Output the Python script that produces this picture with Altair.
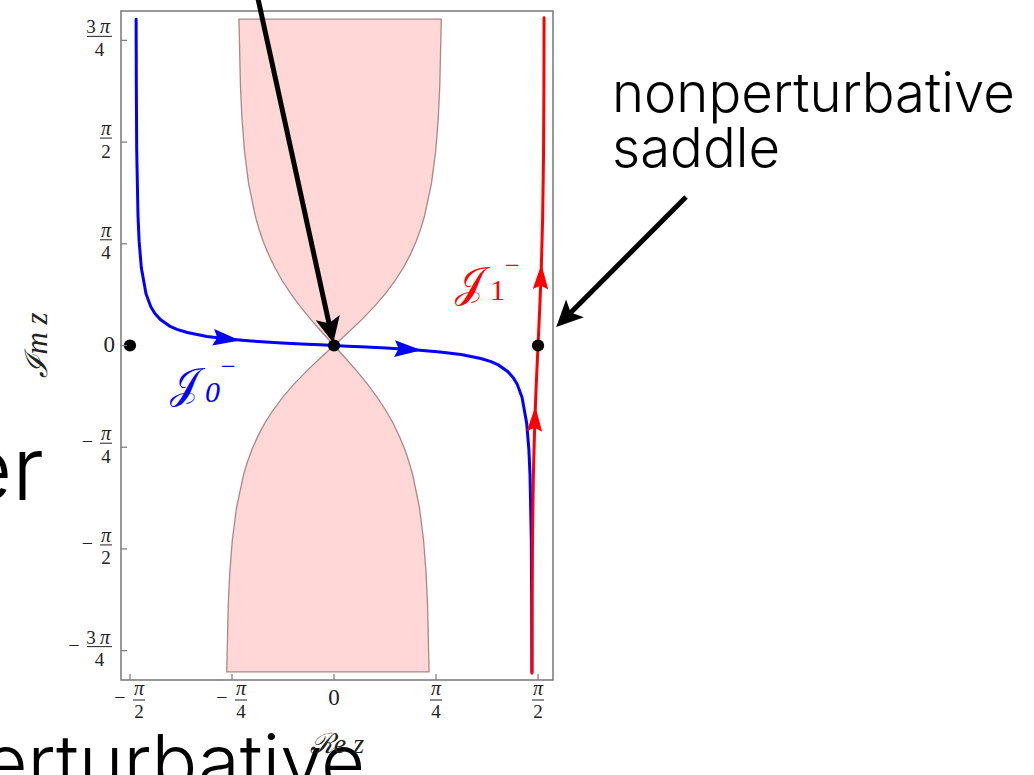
import math
import altair as alt
import pandas as pd

PI = math.pi

# ---------------- data (complex plane z = Re z + i Im z, radians) ----------------

# Thimble J0^- through the perturbative saddle z = 0 (blue)
j0_re = [-1.5236, -1.5220, -1.5189, -1.5091, -1.5001, -1.4834, -1.4476, -1.4107,
         -1.3810, -1.3368, -1.2648, -1.2092, -1.1297, -0.9784, -0.8150, -0.6394,
         -0.4020, -0.2094, -0.1058, 0.0,
         0.1058, 0.2094, 0.4020, 0.6394, 0.8150, 0.9784, 1.1297, 1.2092, 1.2648,
         1.3368, 1.3810, 1.4107, 1.4476, 1.4834, 1.5001, 1.5091, 1.5189, 1.5220, 1.5236]
j0_im = [2.52, 2.0, 1.5, 1.0, 0.8, 0.6, 0.4, 0.3,
         0.25, 0.2, 0.15, 0.125, 0.1, 0.07, 0.05, 0.035,
         0.02, 0.01, 0.005, 0.0,
         -0.005, -0.01, -0.02, -0.035, -0.05, -0.07, -0.1, -0.125, -0.15,
         -0.2, -0.25, -0.3, -0.4, -0.6, -0.8, -1.0, -1.5, -2.0, -2.52]

# Thimble J1^- through the nonperturbative saddle z = pi/2 (red)
j1_re = [1.5244, 1.5255, 1.5282, 1.5350, 1.5455, 1.5571, 1.5663, 1.5708,
         1.5753, 1.5845, 1.5961, 1.6066, 1.6134, 1.6161, 1.6172]
j1_im = [-2.53, -2.0, -1.5, -1.0, -0.6, -0.3, -0.1, 0.0,
         0.1, 0.3, 0.6, 1.0, 1.5, 2.0, 2.53]

# Shaded region: left / right boundary at each Im z
region_im = [-2.52, -2.0, -1.75, -1.5, -1.25, -1.0, -0.9, -0.8, -0.7, -0.6, -0.5,
             -0.4, -0.3, -0.2, -0.1, -0.05, 0.0, 0.05, 0.1, 0.2, 0.3, 0.4, 0.5,
             0.6, 0.7, 0.8, 0.9, 1.0, 1.25, 1.5, 1.75, 2.0, 2.52]
region_left = [-0.8260, -0.8141, -0.8023, -0.7827, -0.7502, -0.6968, -0.6668, -0.6304,
               -0.5862, -0.5331, -0.4698, -0.3955, -0.3098, -0.2135, -0.1091, -0.0549,
               0.0, -0.0455, -0.0905, -0.1777, -0.2592, -0.3329, -0.3981, -0.4546,
               -0.5029, -0.5437, -0.5777, -0.6061, -0.6575, -0.6891, -0.7084, -0.7202, -0.7319]
region_right = [0.7319, 0.7202, 0.7084, 0.6891, 0.6575, 0.6061, 0.5777, 0.5437,
                0.5029, 0.4546, 0.3981, 0.3329, 0.2592, 0.1777, 0.0905, 0.0455,
                0.0, 0.0549, 0.1091, 0.2135, 0.3098, 0.3955, 0.4698, 0.5331,
                0.5862, 0.6304, 0.6668, 0.6968, 0.7502, 0.7827, 0.8023, 0.8141, 0.8260]

# Saddle points
saddle_re = [-1.5708, 0.0, 1.5708]
saddle_im = [0.0, 0.0, 0.0]

# Flow-direction arrowheads sitting on the thimbles
j0_arrow_re = [-0.827, 0.570]
j0_arrow_im = [0.0515, -0.0306]
j1_arrow_re = [1.5934, 1.5467]
j1_arrow_im = [0.531, -0.568]

# Pointer arrows of the annotation (start, head)
ptr_re = [-0.600, 2.710]
ptr_im = [2.745, 1.1467]
ptr_head_re = [-0.0269, 1.783]
ptr_head_im = [0.1174, 0.2147]

# Tick values
re_ticks = [-PI / 2, -PI / 4, 0.0, PI / 4, PI / 2]
re_tick_den = ["2", "4", "", "4", "2"]
im_ticks = [-3 * PI / 4, -PI / 2, -PI / 4, 0.0, PI / 4, PI / 2, 3 * PI / 4]
im_tick_den = ["4", "2", "4", "", "4", "2", "4"]

# ---------------- layout ----------------
W, H = 432, 669
RE_DOMAIN = [-1.640, 1.686]
IM_DOMAIN = [-2.583, 2.583]
SERIF = "Liberation Serif"
SLIDE_FONT = "Inter"
FRAME = "#777777"

xs = alt.Scale(domain=RE_DOMAIN, nice=False, zero=False)
ys = alt.Scale(domain=IM_DOMAIN, nice=False, zero=False)


def X(f):
    return alt.X(f, type="quantitative", scale=xs, axis=None)


def Y(f):
    return alt.Y(f, type="quantitative", scale=ys, axis=None)


one = pd.DataFrame({"k": [0]})

j0_df = pd.DataFrame({"re": j0_re, "im": j0_im, "k": range(len(j0_re))})
j1_df = pd.DataFrame({"re": j1_re, "im": j1_im, "k": range(len(j1_re))})
reg_df = pd.DataFrame({"im": region_im, "l": region_left, "r": region_right})
sad_df = pd.DataFrame({"re": saddle_re, "im": saddle_im})

region = alt.Chart(reg_df).mark_area(
    orient="horizontal", fill="#ffd7d7", stroke="#a88888", strokeWidth=1.3
).encode(y=Y("im"), x=X("l"), x2=alt.X2("r"))

j0_line = alt.Chart(j0_df).mark_line(color="#0000ff", strokeWidth=3, strokeCap="round").encode(
    x=X("re"), y=Y("im"), order="k:Q")
j1_line = alt.Chart(j1_df).mark_line(color="#ff0000", strokeWidth=3, strokeCap="round").encode(
    x=X("re"), y=Y("im"), order="k:Q")

FLOW_HEAD = "M0,-1L0.62,1L0,0.7L-0.62,1Z"
PTR_HEAD = "M0,-1L0.95,1L0,0.55L-0.95,1Z"


def head(re, im, color, angle, size, shape):
    df = pd.DataFrame({"re": [re], "im": [im]})
    return alt.Chart(df).mark_point(
        shape=shape, filled=True, fill=color, strokeWidth=0, opacity=1,
        size=size, angle=angle
    ).encode(x=X("re"), y=Y("im"))


flow_heads = [
    head(j0_arrow_re[0], j0_arrow_im[0], "#0000ff", 97, 729, FLOW_HEAD),
    head(j0_arrow_re[1], j0_arrow_im[1], "#0000ff", 93.6, 729, FLOW_HEAD),
    head(j1_arrow_re[0], j1_arrow_im[0], "#ff0000", 2.2, 625, FLOW_HEAD),
    head(j1_arrow_re[1], j1_arrow_im[1], "#ff0000", 2.2, 625, FLOW_HEAD),
]

saddles = alt.Chart(sad_df).mark_circle(size=150, color="black", opacity=1).encode(
    x=X("re"), y=Y("im"))

ptr_df = pd.DataFrame({"re": ptr_re, "im": ptr_im, "re2": ptr_head_re, "im2": ptr_head_im})
ptr_shafts = alt.Chart(ptr_df).mark_rule(color="black", strokeWidth=5).encode(
    x=X("re"), y=Y("im"), x2=alt.X2("re2"), y2=alt.Y2("im2"))
ptr_heads = [
    head(ptr_head_re[0], ptr_head_im[0], "black", 167.6, 676, PTR_HEAD),
    head(ptr_head_re[1], ptr_head_im[1], "black", 225, 700, PTR_HEAD),
]

# ---------------- frame ticks and fraction labels ----------------
rt = pd.DataFrame({"v": re_ticks, "den": re_tick_den})
it = pd.DataFrame({"v": im_ticks, "den": im_tick_den})

re_tick_marks = alt.Chart(rt).mark_rule(color=FRAME, strokeWidth=1.2).encode(
    x=X("v"), x2=alt.X2("v"), y=alt.value(H), y2=alt.value(H - 6))
im_tick_marks = alt.Chart(it).mark_rule(color=FRAME, strokeWidth=1.2).encode(
    y=Y("v"), y2=alt.Y2("v"), x=alt.value(0), x2=alt.value(6))


def txt(chart, **kw):
    base = dict(font=SERIF, color="#222222")
    base.update(kw)
    return chart.mark_text(**base)


# x-axis labels
rneg = alt.Chart(rt).transform_filter("datum.v < 0")
rpos = alt.Chart(rt).transform_filter("datum.v > 0")
rzero = alt.Chart(rt).transform_filter("datum.v == 0")
x_labels = [
    txt(rneg, text="\u2212", fontSize=20, dx=-10, baseline="alphabetic").encode(x=X("v"), y=alt.value(693)),
    txt(rneg, text="\u03c0", fontSize=20, fontStyle="italic", dx=9, baseline="alphabetic").encode(x=X("v"), y=alt.value(684)),
    txt(rpos, text="\u03c0", fontSize=20, fontStyle="italic", baseline="alphabetic").encode(x=X("v"), y=alt.value(684)),
    rneg.mark_rule(color="#222222", strokeWidth=1, xOffset=3, x2Offset=15).encode(
        x=X("v"), x2=alt.X2("v"), y=alt.value(689), y2=alt.value(689)),
    rpos.mark_rule(color="#222222", strokeWidth=1, xOffset=-6, x2Offset=6).encode(
        x=X("v"), x2=alt.X2("v"), y=alt.value(689), y2=alt.value(689)),
    txt(rneg, fontSize=19, dx=9, baseline="alphabetic").encode(x=X("v"), y=alt.value(707), text="den:N"),
    txt(rpos, fontSize=19, baseline="alphabetic").encode(x=X("v"), y=alt.value(707), text="den:N"),
    txt(rzero, text="0", fontSize=23, baseline="alphabetic").encode(x=X("v"), y=alt.value(694)),
]

# y-axis labels
inarrow = alt.Chart(it).transform_filter("datum.v != 0 && abs(datum.v) < 2")
iwide = alt.Chart(it).transform_filter("abs(datum.v) > 2")
ineg_n = alt.Chart(it).transform_filter("datum.v < 0 && datum.v > -2")
ineg_w = alt.Chart(it).transform_filter("datum.v < -2")
izero = alt.Chart(it).transform_filter("datum.v == 0")
y_labels = [
    txt(inarrow, text="\u03c0", fontSize=20, fontStyle="italic", dy=-7, baseline="alphabetic").encode(
        x=alt.value(-15), y=Y("v")),
    txt(iwide, text="\u03c0", fontSize=20, fontStyle="italic", dy=-7, baseline="alphabetic").encode(
        x=alt.value(-16), y=Y("v")),
    txt(iwide, text="3", fontSize=19, dy=-7, baseline="alphabetic").encode(x=alt.value(-30), y=Y("v")),
    inarrow.mark_rule(color="#222222", strokeWidth=1, yOffset=-4, y2Offset=-4).encode(
        x=alt.value(-21), x2=alt.value(-9), y=Y("v"), y2=alt.Y2("v")),
    iwide.mark_rule(color="#222222", strokeWidth=1, yOffset=-4, y2Offset=-4).encode(
        x=alt.value(-34), x2=alt.value(-9), y=Y("v"), y2=alt.Y2("v")),
    txt(inarrow, fontSize=19, dy=15.5, baseline="alphabetic").encode(x=alt.value(-15), y=Y("v"), text="den:N"),
    txt(iwide, fontSize=19, dy=15.5, baseline="alphabetic").encode(x=alt.value(-21.5), y=Y("v"), text="den:N"),
    txt(ineg_n, text="\u2212", fontSize=20, dy=1, baseline="alphabetic").encode(x=alt.value(-33.5), y=Y("v")),
    txt(ineg_w, text="\u2212", fontSize=20, dy=1, baseline="alphabetic").encode(x=alt.value(-47), y=Y("v")),
    txt(izero, text="0", fontSize=23, dy=6.5, align="right", baseline="alphabetic").encode(
        x=alt.value(-6), y=Y("v")),
]

# axis titles
titles = [
    alt.Chart(one).mark_text(text="\u2110m z", font=SERIF, fontStyle="italic", fontSize=31,
                              angle=270, color="#222222").encode(x=alt.value(-83), y=alt.value(334)),
    alt.Chart(one).mark_text(text="\u211be z", font=SERIF, fontStyle="italic", fontSize=28,
                              color="#222222").encode(x=alt.value(216), y=alt.value(734)),
]

# thimble names
names = [
    alt.Chart(one).mark_text(text="\U0001D4A5", font=SERIF, fontSize=42, color="#0000ff",
                              baseline="alphabetic").encode(x=alt.value(63), y=alt.value(387)),
    alt.Chart(one).mark_text(text="0", font=SERIF, fontStyle="italic", fontSize=30, color="#0000ff",
                              align="left", baseline="alphabetic").encode(x=alt.value(84), y=alt.value(391)),
    alt.Chart(one).mark_text(text="\u2212", font=SERIF, fontSize=26, color="#0000ff",
                              align="left", baseline="alphabetic").encode(x=alt.value(100), y=alt.value(364)),
    alt.Chart(one).mark_text(text="\U0001D4A5", font=SERIF, fontSize=42, color="#ff0000",
                              baseline="alphabetic").encode(x=alt.value(348), y=alt.value(286)),
    alt.Chart(one).mark_text(text="1", font=SERIF, fontSize=30, color="#ff0000",
                              align="left", baseline="alphabetic").encode(x=alt.value(369), y=alt.value(289)),
    alt.Chart(one).mark_text(text="\u2212", font=SERIF, fontSize=26, color="#ff0000",
                              align="left", baseline="alphabetic").encode(x=alt.value(384), y=alt.value(263)),
]

# slide text around the figure
slide = [
    alt.Chart(one).mark_text(text="nonperturbative", font=SLIDE_FONT, fontWeight=300, fontSize=54.5,
                              align="left", baseline="alphabetic", color="black").encode(
        x=alt.value(491), y=alt.value(101)),
    alt.Chart(one).mark_text(text="saddle", font=SLIDE_FONT, fontWeight=300, fontSize=54.5,
                              align="left", baseline="alphabetic", color="black").encode(
        x=alt.value(491), y=alt.value(156)),
    alt.Chart(one).mark_text(text="er", font=SLIDE_FONT, fontWeight=300, fontSize=88,
                              align="right", baseline="alphabetic", color="black").encode(
        x=alt.value(-77), y=alt.value(489)),
    alt.Chart(one).mark_text(text="perturbative", font=SLIDE_FONT, fontWeight=300, fontSize=76,
                              align="right", baseline="alphabetic", color="black").encode(
        x=alt.value(244), y=alt.value(778)),
]

chart = alt.layer(
    *slide, region, j0_line, j1_line, *flow_heads, saddles, ptr_shafts, *ptr_heads,
    re_tick_marks, im_tick_marks, *x_labels, *y_labels, *titles, *names
).properties(
    width=W, height=H,
    autosize=alt.AutoSizeParams(type="none"),
    padding={"left": 121, "top": 11, "right": 481, "bottom": 95},
    background="white",
).configure_view(stroke=FRAME, strokeWidth=1.5)

chart.save("out.html", embed_options={"renderer": "svg", "actions": False})
